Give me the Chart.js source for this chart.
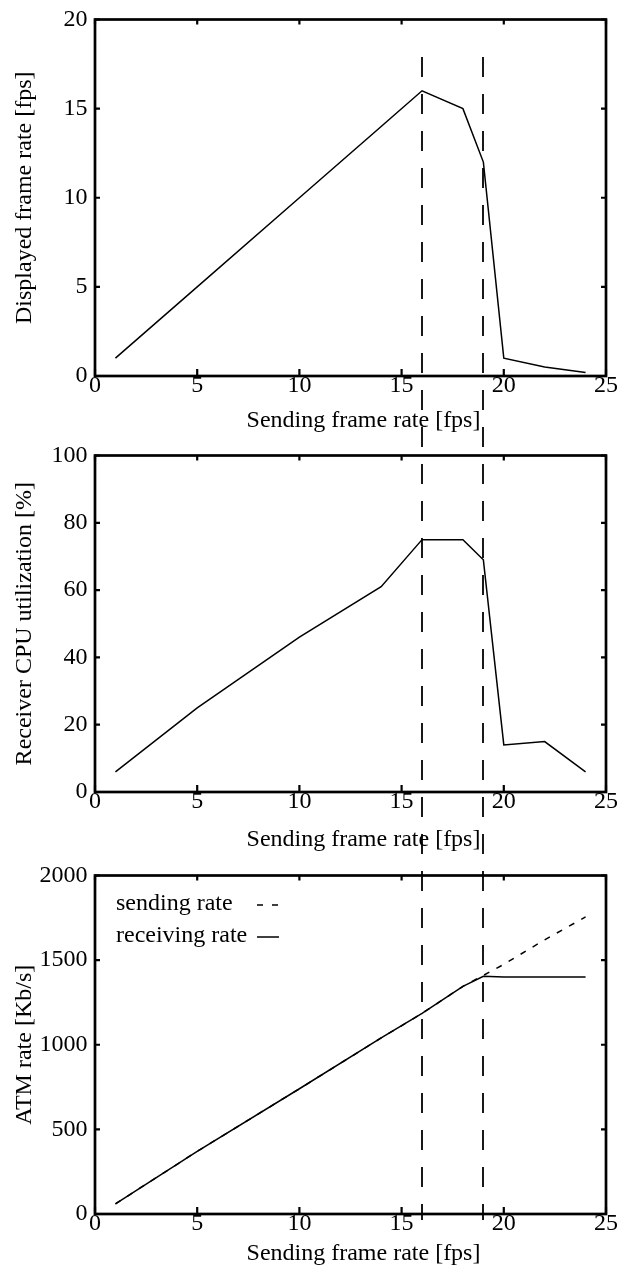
<!DOCTYPE html>
<html>
<head>
<meta charset="utf-8">
<script src="https://cdn.jsdelivr.net/npm/chart.js@4.4.0/dist/chart.umd.min.js"></script>
<style>
  html, body { margin: 0; padding: 0; background: #fff; }
  #wrap { position: relative; width: 624px; height: 1272px; overflow: hidden; }
  canvas { position: absolute; left: 0; display: block; }
</style>
</head>
<body>
<div id="wrap">
  <canvas id="c1" width="624" height="436" style="top:0"></canvas>
  <canvas id="c2" width="624" height="420" style="top:436px"></canvas>
  <canvas id="c3" width="624" height="416" style="top:856px"></canvas>
</div>
<script>
// data
const sendRate = [1, 5, 10, 14, 16, 18, 19, 20, 22, 24];
const displayedFps = [1, 5, 10, 14, 16, 15, 12, 1, 0.5, 0.2];
const cpuUtil = [6, 25, 46, 61, 75, 75, 69, 14, 15, 6];
const atmSending = [60, 370, 740, 1040, 1185, 1345, 1410, 1475, 1620, 1755];
const atmReceiving = [60, 370, 740, 1040, 1185, 1345, 1405, 1400, 1400, 1400];
const markerRates = [16, 19];

const xTicks = [0, 5, 10, 15, 20, 25];
const fpsTicks = [0, 5, 10, 15, 20];
const cpuTicks = [0, 20, 40, 60, 80, 100];
const atmTicks = [0, 500, 1000, 1500, 2000];

const serif = '"Liberation Serif", "Times New Roman", Times, serif';
const tickFont = { family: serif, size: 24, lineHeight: 1 };
const titleFont = { family: serif, size: 24, lineHeight: 1.2 };
const xTitle = 'Sending frame rate [fps]';

const DASH = [20, 17];
const DASH_START = 57; // page y where the marker lines begin

function points(ys) {
  return sendRate.map((x, i) => ({ x: x, y: ys[i] }));
}

function framePlugin(cfg) {
  return {
    id: 'frame',
    afterDraw(chart) {
      const ctx = chart.ctx;
      const a = chart.chartArea;
      const x = chart.scales.x, y = chart.scales.y;
      ctx.save();
      ctx.strokeStyle = '#000';
      ctx.fillStyle = '#000';

      // inward ticks on all four sides
      ctx.lineWidth = 2.2;
      ctx.beginPath();
      x.ticks.forEach(t => {
        const px = x.getPixelForValue(t.value);
        ctx.moveTo(px, a.bottom); ctx.lineTo(px, a.bottom - 7);
        ctx.moveTo(px, a.top); ctx.lineTo(px, a.top + 5);
      });
      y.ticks.forEach(t => {
        const py = y.getPixelForValue(t.value);
        ctx.moveTo(a.left, py); ctx.lineTo(a.left + 5, py);
        ctx.moveTo(a.right, py); ctx.lineTo(a.right - 5, py);
      });
      ctx.stroke();

      ctx.lineWidth = 2.7;
      ctx.strokeRect(a.left, a.top, a.right - a.left, a.bottom - a.top);

      // x axis title (sits a little right of centre in the original)
      ctx.font = '24px ' + serif;
      ctx.textAlign = 'center';
      ctx.textBaseline = 'alphabetic';
      ctx.fillText(xTitle, (a.left + a.right) / 2 + 13, a.bottom + cfg.xTitleBase);

      // vertical dashed markers, continuous across panels
      ctx.lineWidth = 1.8;
      ctx.setLineDash(DASH);
      const period = DASH[0] + DASH[1];
      ctx.lineDashOffset = (((cfg.pageTop + cfg.dashFrom - DASH_START) % period) + period) % period;
      ctx.beginPath();
      markerRates.forEach(v => {
        const px = Math.round(x.getPixelForValue(v));
        ctx.moveTo(px, cfg.dashFrom);
        ctx.lineTo(px, cfg.dashTo);
      });
      ctx.stroke();
      ctx.setLineDash([]);
      ctx.lineDashOffset = 0;

      if (cfg.legend) {
        ctx.textAlign = 'left';
        cfg.legend.forEach((item, i) => {
          const base = 54 + i * 32;
          ctx.fillText(item.label, 116, base);
          ctx.lineWidth = 1.5;
          ctx.setLineDash(item.dash);
          ctx.beginPath();
          ctx.moveTo(257, base - 5);
          ctx.lineTo(279, base - 5);
          ctx.stroke();
          ctx.setLineDash([]);
        });
      }
      ctx.restore();
    }
  };
}

function makeChart(id, cfg) {
  const yt = cfg.yTicks;
  return new Chart(document.getElementById(id), {
    type: 'line',
    data: { datasets: cfg.datasets },
    options: {
      responsive: false,
      animation: false,
      layout: { padding: { top: cfg.padTop, right: 18, left: 0, bottom: 0 } },
      plugins: { legend: { display: false }, tooltip: { enabled: false } },
      elements: { point: { radius: 0 }, line: { tension: 0 } },
      scales: {
        x: {
          type: 'linear', min: 0, max: 25,
          afterBuildTicks: s => { s.ticks = xTicks.map(v => ({ value: v })); },
          afterFit: s => { s.height = cfg.xHeight; },
          grid: { display: false, drawTicks: false },
          border: { display: false },
          ticks: { color: '#000', font: tickFont, padding: -2, maxRotation: 0, autoSkip: false, callback: v => String(v) },
          title: { display: false }
        },
        y: {
          type: 'linear', min: yt[0], max: yt[yt.length - 1],
          afterBuildTicks: s => { s.ticks = yt.map(v => ({ value: v })); },
          afterFit: s => { s.width = 95; },
          grid: { display: false, drawTicks: false },
          border: { display: false },
          ticks: { color: '#000', font: tickFont, padding: 7.5, autoSkip: false, callback: v => String(v) },
          title: { display: true, text: cfg.yTitle, color: '#000', font: titleFont, padding: { top: 10, bottom: 0 } }
        }
      }
    },
    plugins: [framePlugin(cfg)]
  });
}

makeChart('c1', {
  pageTop: 0, padTop: 16, xHeight: 60, xTitleBase: 51,
  dashFrom: DASH_START, dashTo: 436,
  yTicks: fpsTicks, yTitle: 'Displayed frame rate [fps]',
  datasets: [{ data: points(displayedFps), borderColor: '#000', borderWidth: 1.5, fill: false }]
});

makeChart('c2', {
  pageTop: 436, padTop: 16, xHeight: 64, xTitleBase: 54,
  dashFrom: 0, dashTo: 420,
  yTicks: cpuTicks, yTitle: 'Receiver CPU utilization [%]',
  datasets: [{ data: points(cpuUtil), borderColor: '#000', borderWidth: 1.5, fill: false }]
});

makeChart('c3', {
  pageTop: 856, padTop: 16, xHeight: 58, xTitleBase: 46,
  dashFrom: 0, dashTo: 364,
  yTicks: atmTicks, yTitle: 'ATM rate [Kb/s]',
  legend: [
    { label: 'sending rate', dash: [6, 9] },
    { label: 'receiving rate', dash: [] }
  ],
  datasets: [
    { label: 'receiving rate', data: points(atmReceiving), borderColor: '#000', borderWidth: 1.5, fill: false },
    { label: 'sending rate', data: points(atmSending), borderColor: '#000', borderWidth: 1.5, borderDash: [6, 8], fill: false }
  ]
});
</script>
</body>
</html>
